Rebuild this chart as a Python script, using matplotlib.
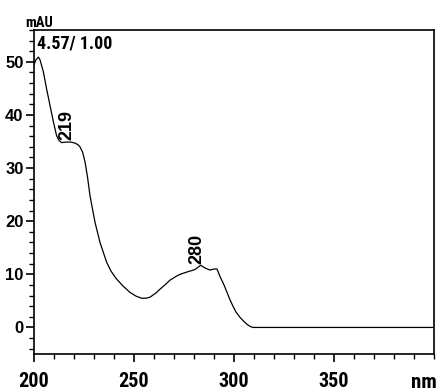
import matplotlib
matplotlib.use("Agg")
import matplotlib.pyplot as plt
import numpy as np
from matplotlib.ticker import MultipleLocator

wavelength = [200, 201, 202.2, 203, 204.7, 206.3, 208, 209.7, 211.3, 212.5, 213.8, 216.3, 218.5, 220.5,
              222, 223, 224.3, 225.5, 226.8, 228, 230.5, 233, 236.3, 238.5, 241.3, 244.5, 248, 251,
              253.8, 256, 258, 261, 263, 266, 268, 271, 273, 277, 280.5, 283.3, 285.5, 288, 290, 291.5,
              293, 295, 296.5, 298, 299.5, 301, 303, 305, 306.5, 308, 309.5, 320, 340, 360, 380, 400]
absorbance = [49.5, 50.4, 50.9, 50.4, 48.1, 44.9, 41.8, 38.7, 36.1, 35.2, 34.8, 34.9, 34.9, 34.7,
              34.4, 34.0, 33.0, 31.2, 28.2, 24.8, 19.8, 16.0, 12.3, 10.6, 9.1, 7.8, 6.6, 5.9,
              5.5, 5.5, 5.7, 6.5, 7.2, 8.2, 8.9, 9.6, 10.0, 10.5, 10.9, 11.7, 11.2, 10.8, 11.0, 11.0,
              9.6, 8.0, 6.6, 5.2, 4.0, 2.9, 1.9, 1.1, 0.6, 0.2, 0.0, 0.0, 0.0, 0.0, 0.0, 0.0]

peak_labels = ["219", "280"]
peak_x = [216.4, 281.2]
peak_y = [35.2, 11.9]

x_ticks = [200, 250, 300, 350]
y_ticks = [0, 10, 20, 30, 40, 50]

fam = ["Roboto Condensed", "DejaVu Sans"]
fam_y = ["Liberation Sans", "DejaVu Sans"]

fig = plt.figure(figsize=(4.38, 3.91), dpi=100)
ax = fig.add_axes([34/438, 1-354/391, 400/438, 324/391])
ax.plot(wavelength, absorbance, color="black", lw=0.9)
ax.set_xlim(200, 400)
ax.set_ylim(-5, 56)

ax.set_xticks(x_ticks)
ax.set_yticks(y_ticks)
ax.xaxis.set_minor_locator(MultipleLocator(10))
ax.yaxis.set_minor_locator(MultipleLocator(2))
ax.tick_params(axis="both", which="major", direction="out", length=6, width=1.2, color="black")
ax.tick_params(axis="both", which="minor", direction="out", length=3.5, width=1.0, color="black")
ax.tick_params(axis="x", which="major", pad=7)
ax.tick_params(axis="y", which="major", pad=1.5)
for lab in ax.get_xticklabels():
    lab.set_fontfamily(fam)
    lab.set_fontweight("heavy")
    lab.set_fontsize(14.5)
for lab in ax.get_yticklabels():
    lab.set_fontfamily(fam_y)
    lab.set_fontweight("bold")
    lab.set_fontsize(12)
for s in ax.spines.values():
    s.set_linewidth(1.2)

fig.text(25/438, 1-27/391, "mAU", fontfamily=fam, fontweight="heavy", fontsize=10.5, ha="left", va="baseline")
fig.text(437/438, 1-388/391, "nm", fontfamily=fam, fontweight="heavy", fontsize=15, ha="right", va="baseline")
ax.text(0.008, 0.985, "4.57/ 1.00", transform=ax.transAxes, fontfamily=fam, fontweight="heavy",
        fontsize=13, ha="left", va="top")

for lbl, px, py in zip(peak_labels, peak_x, peak_y):
    ax.text(px, py, lbl, rotation=90, ha="center", va="bottom", fontfamily=fam_y,
            fontweight="bold", fontsize=13)

fig.savefig("out.png", dpi=100)
